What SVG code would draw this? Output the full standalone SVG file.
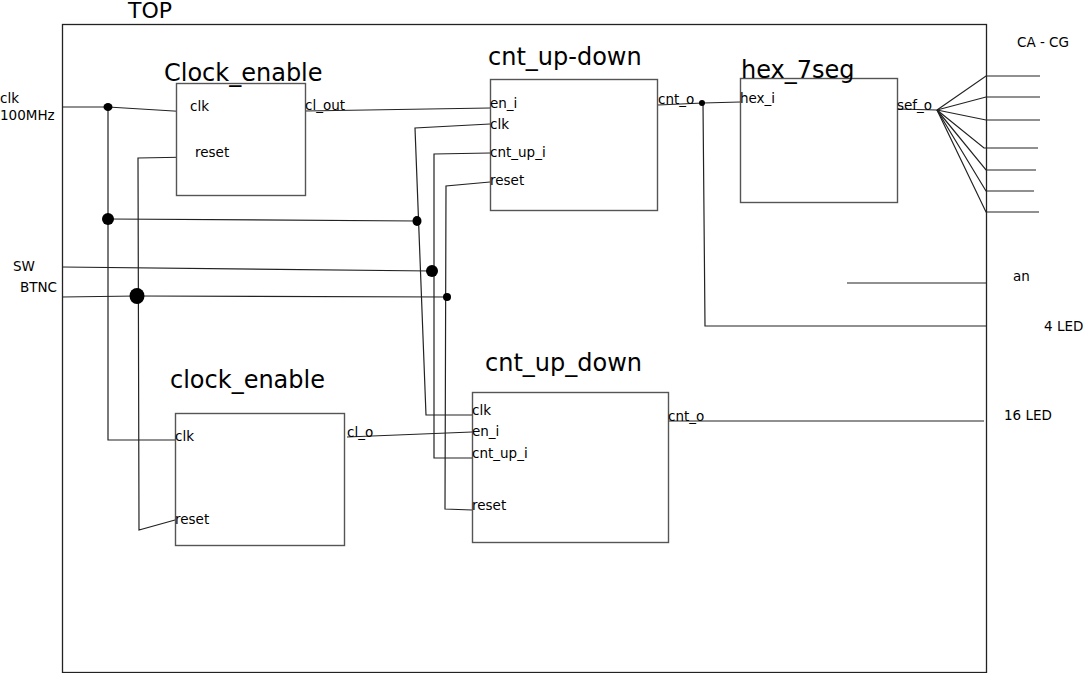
<svg xmlns="http://www.w3.org/2000/svg" width="1083" height="673" viewBox="0 0 1083 673">
<style>
text{font-family:"DejaVu Sans","Liberation Sans",sans-serif;fill:#000}
.t{font-size:24px}
.s{font-size:13.5px}
.box{fill:#fff;stroke:#555;stroke-width:1.4}
.w{fill:none;stroke:#222;stroke-width:1.2}
.d{fill:#000}
</style>
<rect width="1083" height="673" fill="#fff"/>
<g id="top">
<rect x="62.5" y="24.5" width="924" height="648" fill="none" stroke="#222" stroke-width="1.3"/>
<text x="128" y="18" font-size="22">TOP</text>
</g>
<g id="labels">
<text class="s" x="0" y="103">clk</text>
<text class="s" x="0" y="120">100MHz</text>
<text class="s" x="13" y="271">SW</text>
<text class="s" x="20" y="292">BTNC</text>
<text class="s" x="1017" y="47">CA - CG</text>
<text class="s" x="1013" y="281">an</text>
<text class="s" x="1044" y="331">4 LED</text>
<text class="s" x="1004" y="420">16 LED</text>
</g>
<g id="connectors">
<polyline class="w" points="62,107 108,107 190,112"/>
<polyline class="w" points="108,107 108,440 175,440"/>
<polyline class="w" points="108,219 417,221"/>
<polyline class="w" points="194,157 138,158 139,530 175,520"/>
<polyline class="w" points="62,267 432,271"/>
<polyline class="w" points="62,297 137,296 447,297"/>
<polyline class="w" points="490,124 415,128 426,415 472,415"/>
<polyline class="w" points="490,153 434,154 434,458 472,458"/>
<polyline class="w" points="490,182 446,186 445,509 472,510"/>
<polyline class="w" points="305,111 490,108"/>
<polyline class="w" points="347,437 472,432"/>
<polyline class="w" points="658,105 703,103 740,102"/>
<polyline class="w" points="703,103 705,326 986,326"/>
<polyline class="w" points="897,109 937,110"/>
<polyline class="w" points="937,110 986,76 1040,76"/>
<polyline class="w" points="937,110 986,97 1040,97"/>
<polyline class="w" points="937,110 986,120 1040,120"/>
<polyline class="w" points="937,110 984,148 1038,148"/>
<polyline class="w" points="937,110 986,170 1036,170"/>
<polyline class="w" points="937,110 986,191 1034,191"/>
<polyline class="w" points="937,110 986,212 1039,212"/>
<line class="w" x1="847" y1="283" x2="986" y2="283"/>
<line class="w" x1="668" y1="421" x2="984" y2="421"/>
<ellipse class="d" cx="108" cy="107" rx="4.5" ry="4"/>
<ellipse class="d" cx="108" cy="219" rx="6" ry="6"/>
<ellipse class="d" cx="417" cy="221" rx="4.5" ry="5"/>
<ellipse class="d" cx="432" cy="271" rx="6" ry="6"/>
<ellipse class="d" cx="447" cy="297" rx="4" ry="4"/>
<ellipse class="d" cx="137" cy="296" rx="7.5" ry="8"/>
<ellipse class="d" cx="702" cy="103" rx="3" ry="3"/>
</g>
<g id="clock_enable_top">
<rect class="box" x="176.5" y="83.5" width="129" height="112"/>
<text class="t" x="164" y="81">Clock_enable</text>
<text class="s" x="190" y="111">clk</text>
<text class="s" x="195" y="157">reset</text>
<text class="s" x="305" y="110">cl_out</text>
</g>
<g id="cnt_up_down_top">
<rect class="box" x="490.5" y="79.5" width="167" height="131"/>
<text class="t" x="488" y="65">cnt_up-down</text>
<text class="s" x="490" y="108">en_i</text>
<text class="s" x="490" y="129">clk</text>
<text class="s" x="490" y="157">cnt_up_i</text>
<text class="s" x="490" y="185">reset</text>
<text class="s" x="658" y="104">cnt_o</text>
</g>
<g id="hex_7seg">
<rect class="box" x="740.5" y="78.5" width="157" height="124"/>
<text class="t" x="741" y="78">hex_7seg</text>
<text class="s" x="740" y="103">hex_i</text>
<text class="s" x="897" y="110">sef_o</text>
</g>
<g id="clock_enable_bottom">
<rect class="box" x="175.5" y="413.5" width="169" height="132"/>
<text class="t" x="170" y="388">clock_enable</text>
<text class="s" x="175" y="441">clk</text>
<text class="s" x="175" y="524">reset</text>
<text class="s" x="347" y="437">cl_o</text>
</g>
<g id="cnt_up_down_bottom">
<rect class="box" x="472.5" y="392.5" width="196" height="150"/>
<text class="t" x="485" y="371">cnt_up_down</text>
<text class="s" x="472" y="415">clk</text>
<text class="s" x="472" y="436">en_i</text>
<text class="s" x="472" y="458">cnt_up_i</text>
<text class="s" x="472" y="510">reset</text>
<text class="s" x="668" y="421">cnt_o</text>
</g>
</svg>
